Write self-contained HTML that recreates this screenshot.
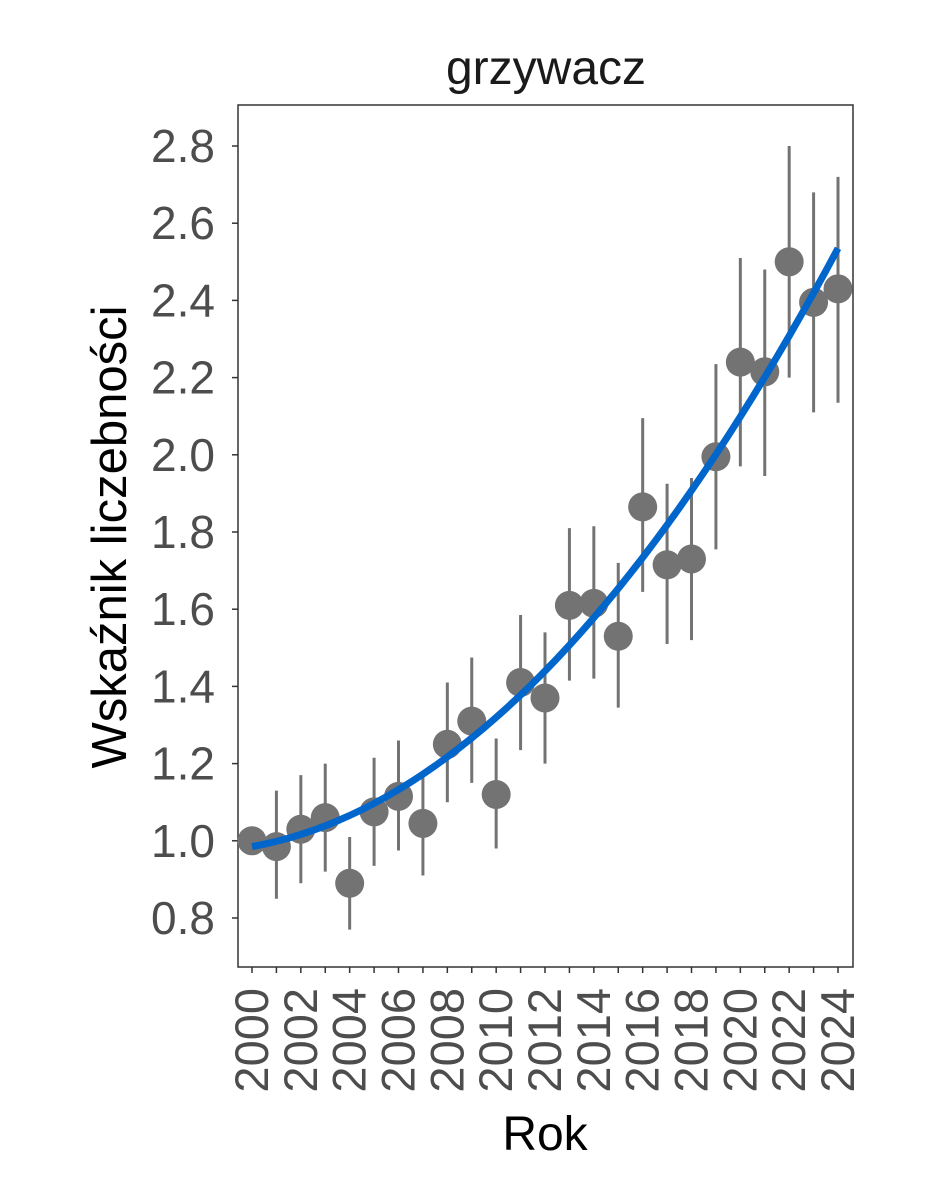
<!DOCTYPE html>
<html><head><meta charset="utf-8"><style>
html,body{margin:0;padding:0;background:#fff;}
svg{display:block;font-family:"Liberation Sans",Arial,sans-serif;}
</style></head><body>
<svg id="s" width="944" height="1181" xmlns="http://www.w3.org/2000/svg"></svg>
<script>
const s=document.getElementById('s');
const X=y=>252+(y-2000)*24.417, Y=v=>840.8-(v-1)*386;
const d=[[2000,1,1,1],[2001,.985,.85,1.13],[2002,1.03,.89,1.17],[2003,1.06,.92,1.2],[2004,.89,.77,1.01],[2005,1.075,.935,1.215],[2006,1.115,.975,1.26],[2007,1.045,.91,1.18],[2008,1.25,1.1,1.41],[2009,1.31,1.15,1.475],[2010,1.12,.98,1.265],[2011,1.41,1.235,1.585],[2012,1.37,1.2,1.54],[2013,1.61,1.415,1.81],[2014,1.615,1.42,1.815],[2015,1.53,1.345,1.72],[2016,1.865,1.645,2.095],[2017,1.715,1.51,1.925],[2018,1.73,1.52,1.94],[2019,1.995,1.755,2.235],[2020,2.24,1.97,2.51],[2021,2.215,1.945,2.48],[2022,2.5,2.2,2.8],[2023,2.395,2.11,2.68],[2024,2.43,2.135,2.72]];
let h='<rect x="238" y="105" width="615" height="862" fill="#fff" stroke="#333" stroke-width="1.5"/>';
for(let i=0;i<11;i++){const v=0.8+i*0.2,y=Y(v);h+=`<line x1="232" x2="238" y1="${y}" y2="${y}" stroke="#333" stroke-width="1.5"/><text x="215" y="${y+16}" font-size="46" fill="#4d4d4d" text-anchor="end">${v.toFixed(1)}</text>`;}
for(let yr=2000;yr<=2024;yr++){const x=X(yr);h+=`<line x1="${x}" x2="${x}" y1="967" y2="973" stroke="#333" stroke-width="1.5"/>`;if(yr%2==0)h+=`<text transform="translate(${x+16},988) rotate(-90)" font-size="47" fill="#4d4d4d" text-anchor="end">${yr}</text>`;}
d.forEach(p=>{h+=`<line x1="${X(p[0])}" x2="${X(p[0])}" y1="${Y(p[2])}" y2="${Y(p[3])}" stroke="#737373" stroke-width="3"/>`;});
d.forEach(p=>{h+=`<circle cx="${X(p[0])}" cy="${Y(p[1])}" r="14.5" fill="#737373"/>`;});
let pts=[];for(let t=0;t<=24;t+=0.5){pts.push(X(2000+t)+','+Y(0.985+0.01125*t+0.002222*t*t));}
h+=`<polyline points="${pts.join(' ')}" fill="none" stroke="#0066cc" stroke-width="7"/>`;
h+=`<text x="546" y="84" font-size="48" fill="#1a1a1a" text-anchor="middle">grzywacz</text>`;
h+=`<text x="545" y="1150" font-size="48" fill="#000" text-anchor="middle">Rok</text>`;
h+=`<text transform="translate(126,537) rotate(-90)" font-size="49" fill="#000" text-anchor="middle">Wskaźnik liczebności</text>`;
s.innerHTML=h;
</script>
</body></html>
